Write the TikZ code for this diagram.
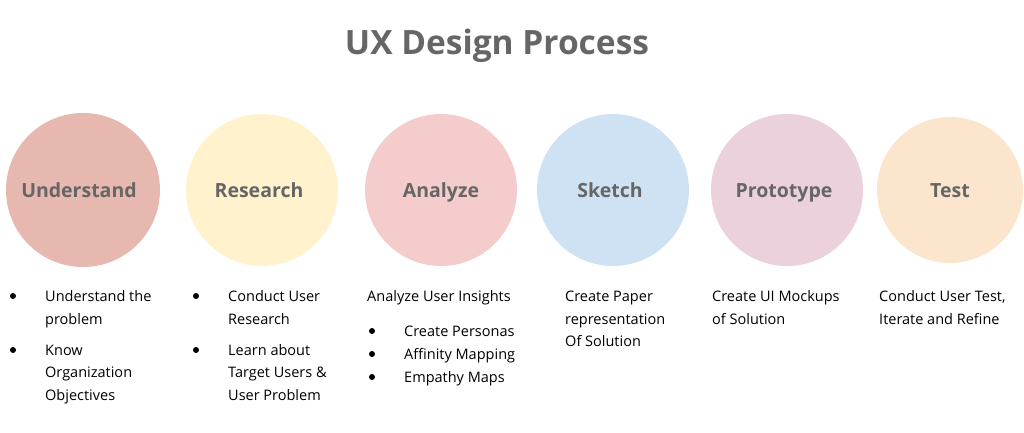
\documentclass[tikz,border=0pt]{standalone}
\usepackage{fontspec}
\setmainfont{Open Sans}
\definecolor{tgray}{HTML}{666666}
\definecolor{cU}{HTML}{E6B8AF}
\definecolor{cR}{HTML}{FFF2CC}
\definecolor{cA}{HTML}{F4CCCC}
\definecolor{cS}{HTML}{CFE2F3}
\definecolor{cP}{HTML}{EAD1DC}
\definecolor{cT}{HTML}{FCE5CD}
\begin{document}
\begin{tikzpicture}[x=1pt,y=-1pt,
  stage/.style={circle,fill=#1,minimum size=152pt,inner sep=0pt},
  lbl/.style={anchor=base,inner sep=0pt,font=\fontsize{19.5}{22}\selectfont\bfseries,text=tgray},
  body/.style={anchor=base west,inner sep=0pt,font=\fontsize{14.5}{16}\selectfont},
  dot/.style={circle,fill=black,inner sep=0pt,minimum size=6pt}]
\useasboundingbox (0,0) rectangle (1024,433);
\node[anchor=base,inner sep=0pt,font=\fontsize{33.5}{36}\selectfont\bfseries,text=tgray] (title) at (497,55) {UX Design Process};
\node[stage=cU,minimum size=154pt] (u) at (83,190) {};
\node[stage=cR] (r) at (262,190) {};
\node[stage=cA] (a) at (441,190) {};
\node[stage=cS] (s) at (613,190) {};
\node[stage=cP] (p) at (787,190) {};
\node[stage=cT,minimum size=146pt] (t) at (950,190) {};
\node[lbl] (ul) at (79,197) {Understand};
\node[lbl] (rl) at (259,197) {Research};
\node[lbl] (al) at (441,197) {Analyze};
\node[lbl] (sl) at (610,197) {Sketch};
\node[lbl] (pl) at (784,197) {Prototype};
\node[lbl] (tl) at (950,197) {Test};
% Understand
\node[dot] (ud1) at (13,296) {}; \node[dot] (ud2) at (13,350) {};
\node[body] (u1) at (45,301) {Understand the};
\node[body] (u2) at (45,324) {problem};
\node[body] (u3) at (45,355) {Know};
\node[body] (u4) at (45,377) {Organization};
\node[body] (u5) at (45,400) {Objectives};
% Research
\node[dot] (rd1) at (196,296) {}; \node[dot] (rd2) at (196,350) {};
\node[body] (r1) at (228,301) {Conduct User};
\node[body] (r2) at (228,324) {Research};
\node[body] (r3) at (228,355) {Learn about};
\node[body] (r4) at (228,377) {Target Users \&};
\node[body] (r5) at (228,400) {User Problem};
% Analyze
\node[body] (a1) at (367,301) {Analyze User Insights};
\node[dot] (ad1) at (372,331) {}; \node[dot] (ad2) at (372,354) {}; \node[dot] (ad3) at (372,377) {};
\node[body] (a2) at (404,336) {Create Personas};
\node[body] (a3) at (404,359) {Affinity Mapping};
\node[body] (a4) at (404,382) {Empathy Maps};
% Sketch
\node[body] (s1) at (565,301) {Create Paper};
\node[body] (s2) at (565,324) {representation};
\node[body] (s3) at (565,346) {Of Solution};
% Prototype
\node[body] (p1) at (712,301) {Create UI Mockups};
\node[body] (p2) at (712,324) {of Solution};
% Test
\node[body] (t1) at (879,301) {Conduct User Test,};
\node[body] (t2) at (879,324) {Iterate and Refine};
\end{tikzpicture}
\end{document}
